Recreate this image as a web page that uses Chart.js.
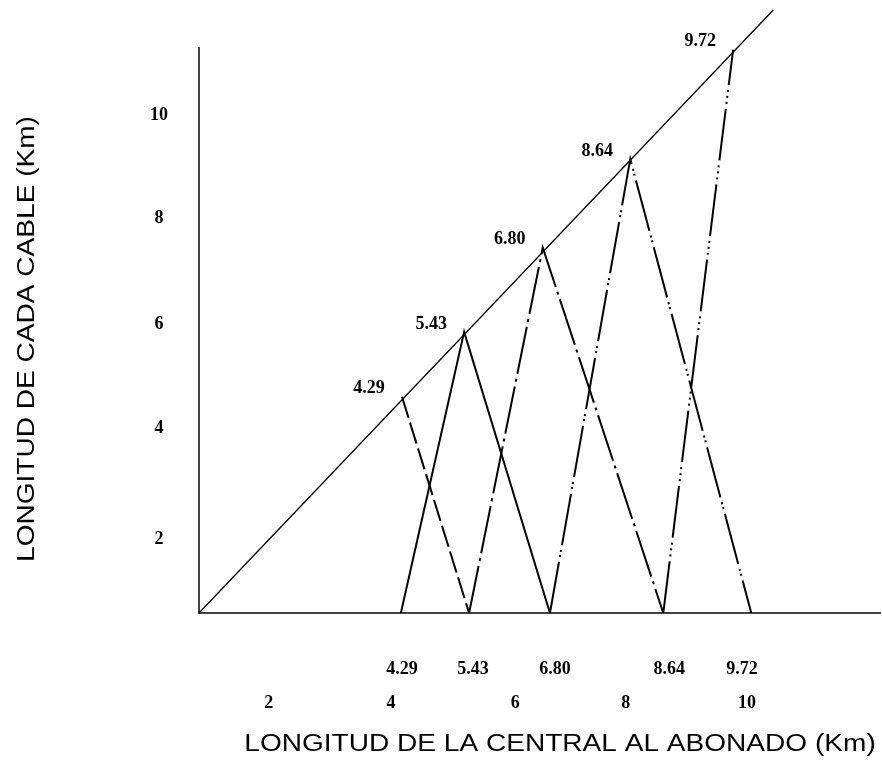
<!DOCTYPE html>
<html>
<head>
<meta charset="utf-8">
<script src="https://cdn.jsdelivr.net/npm/chart.js@4/dist/chart.umd.min.js"></script>
<style>
    html, body { margin: 0; padding: 0; background: #fff; }
    canvas { display: block; }
</style>
</head>
<body>
<canvas id="cableChart" width="882" height="784"></canvas>
<script>
// values, in axis units
const cableLabels = ['4.29', '5.43', '6.80', '8.64', '9.72'];
const peakX = [3.69, 4.82, 6.25, 7.84, 9.71];
const peakY = [3.93, 5.11, 6.64, 8.25, 10.24];
const baseX = [3.67, 4.91, 6.38, 8.44, 10.04];
const diagonalX = [0, 10.44];
const diagonalY = [0, 10.96];

const baseTickValues = [3.69, 4.98, 6.47, 8.55, 9.87];
const xTickValues = [1.27, 3.49, 5.75, 7.76, 9.96];
const xTickLabels = ['2', '4', '6', '8', '10'];
const yTickValues = [1.33, 3.36, 5.24, 7.18, 9.05];
const yTickLabels = ['2', '4', '6', '8', '10'];

const xTitle = 'LONGITUD DE LA CENTRAL AL ABONADO (Km)';
const yTitle = 'LONGITUD DE CADA CABLE (Km)';

const cableDashes = [
    [22, 5],
    [],
    [48, 5, 3, 5],
    [52, 5, 2, 3, 2, 5],
    [52, 5, 2, 4, 2, 4, 2, 5]
];

const tickFont = 'bold 18px "Liberation Serif", "DejaVu Serif", serif';
const titleFont = '23px "Liberation Sans", Arial, sans-serif';

function cablePoints(i) {
    const pts = [];
    if (i > 0) pts.push({ x: baseX[i - 1], y: 0 });
    pts.push({ x: peakX[i], y: peakY[i] });
    if (i < cableLabels.length - 1) pts.push({ x: baseX[i + 1], y: 0 });
    return pts;
}

const datasets = [{
    label: 'diagonal',
    data: diagonalX.map((x, i) => ({ x: x, y: diagonalY[i] })),
    borderColor: '#000',
    borderWidth: 1.3,
    clip: false
}];

cableLabels.forEach((label, i) => {
    datasets.push({
        label: label,
        data: cablePoints(i),
        borderColor: '#000',
        borderWidth: 2,
        borderDash: cableDashes[i]
    });
});

// the titles are stretched sideways in the original
function stretchedText(ctx, text, x, y, angle) {
    ctx.save();
    ctx.translate(x, y);
    ctx.rotate(angle);
    ctx.scale(1.22, 1);
    ctx.fillText(text, 0, 0);
    ctx.restore();
}

const labelPlugin = {
    id: 'labelPlugin',
    afterDraw(chart) {
        const ctx = chart.ctx;
        const xs = chart.scales.x;
        const ys = chart.scales.y;
        const area = chart.chartArea;
        ctx.save();
        ctx.fillStyle = '#000';
        ctx.font = tickFont;
        ctx.textAlign = 'center';
        ctx.textBaseline = 'middle';

        // labels at the peaks on the diagonal
        cableLabels.forEach((label, i) => {
            ctx.fillText(label, xs.getPixelForValue(peakX[i]) - 33, ys.getPixelForValue(peakY[i]) - 8);
        });

        // two rows under the x axis
        cableLabels.forEach((label, i) => {
            ctx.fillText(label, xs.getPixelForValue(baseTickValues[i]), area.bottom + 56);
        });
        xTickLabels.forEach((label, i) => {
            ctx.fillText(label, xs.getPixelForValue(xTickValues[i]), area.bottom + 90);
        });

        yTickLabels.forEach((label, i) => {
            ctx.fillText(label, area.left - 40, ys.getPixelForValue(yTickValues[i]));
        });

        ctx.font = titleFont;
        stretchedText(ctx, xTitle, 560, area.bottom + 132, 0);
        stretchedText(ctx, yTitle, 28, 339, -Math.PI / 2);
        ctx.restore();
    }
};

const ctx = document.getElementById('cableChart').getContext('2d');
new Chart(ctx, {
    type: 'scatter',
    data: { datasets: datasets },
    options: {
        responsive: false,
        animation: false,
        showLine: true,
        layout: {
            padding: { left: 199, top: 48, right: 2, bottom: 171 }
        },
        elements: {
            point: { radius: 0, hoverRadius: 0 },
            line: { tension: 0 }
        },
        scales: {
            x: {
                type: 'linear',
                min: 0,
                max: 12.38,
                grid: { display: false, drawTicks: false },
                ticks: { display: false },
                border: { color: '#444', width: 2 }
            },
            y: {
                type: 'linear',
                min: 0,
                max: 10.27,
                grid: { display: false, drawTicks: false },
                ticks: { display: false },
                border: { color: '#444', width: 2 }
            }
        },
        plugins: {
            legend: { display: false },
            tooltip: { enabled: false }
        }
    },
    plugins: [labelPlugin]
});
</script>
</body>
</html>
